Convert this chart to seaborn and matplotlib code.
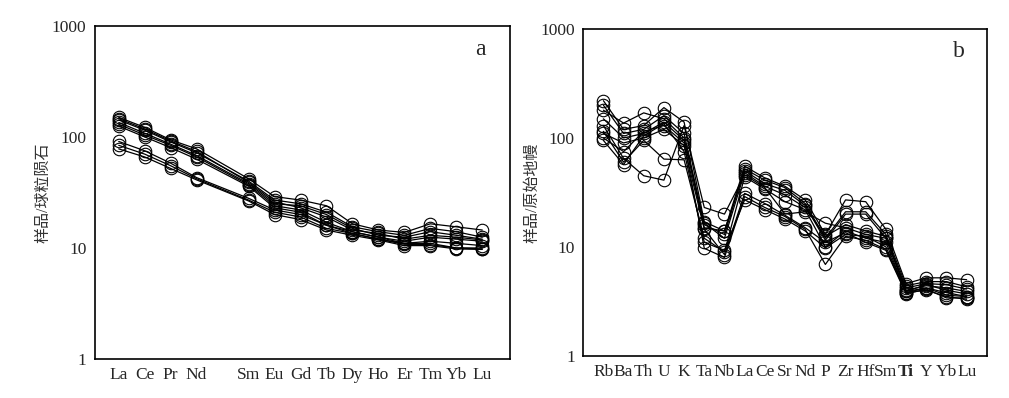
import numpy as np
import pandas as pd
import seaborn as sns
import matplotlib.pyplot as plt
from matplotlib.ticker import LogLocator, FixedLocator, FixedFormatter, NullFormatter

# chondrite-normalised REE (panel a); empty slot = Pm
ree_ticks = ["La", "Ce", "Pr", "Nd", "", "Sm", "Eu", "Gd", "Tb", "Dy", "Ho", "Er", "Tm", "Yb", "Lu"]
ree_elems = ["La", "Ce", "Pr", "Nd", "Sm", "Eu", "Gd", "Tb", "Dy", "Ho", "Er", "Tm", "Yb", "Lu"]
ree_1 = [150, 122, 94, 78, 42, 29, 27, 24, 16.5, 14.5, 13.8, 16.5, 15.5, 14.5]
ree_2 = [142, 115, 90, 72, 40, 27, 25, 21, 15.5, 14, 13, 15, 14, 12.5]
ree_3 = [135, 108, 86, 68, 38, 25, 24, 20, 15, 13, 12.5, 14, 13, 12]
ree_4 = [130, 104, 84, 66, 37, 24, 22, 17, 14, 12.5, 11.5, 12.5, 12, 11.5]
ree_5 = [125, 100, 80, 63, 36, 23, 21, 16, 13.5, 12, 11, 11.5, 11, 10.5]
ree_6 = [146, 118, 92, 74, 39, 26, 23, 19, 14.5, 13.5, 12, 13, 12.5, 11.8]
ree_7 = [91, 75, 58, 43, 28, 22, 20, 16, 14, 12.5, 11, 11, 10, 10]
ree_8 = [84, 70, 55, 42, 27, 21, 19, 15, 13.5, 12, 10.8, 10.7, 10, 9.8]
ree_9 = [78, 66, 52, 41, 26.5, 20, 18, 14.5, 13, 11.8, 10.5, 10.5, 9.8, 9.7]
ree_samples = [ree_1, ree_2, ree_3, ree_4, ree_5, ree_6, ree_7, ree_8, ree_9]

# primitive-mantle-normalised trace elements (panel b)
tr_elems = ["Rb", "Ba", "Th", "U", "K", "Ta", "Nb", "La", "Ce", "Sr", "Nd", "P",
            "Zr", "Hf", "Sm", "Ti", "Y", "Yb", "Lu"]
tr_1 = [220, 120, 130, 190, 140, 17, 14, 55, 43, 36, 27, 13, 27, 26, 14.5, 4.6, 5.2, 5.2, 5.0]
tr_2 = [200, 110, 120, 160, 110, 16, 13, 52, 41, 35, 25, 12, 21, 21, 13, 4.4, 4.8, 4.8, 4.3]
tr_3 = [180, 137, 170, 150, 100, 15, 14, 50, 38, 33, 24, 11.5, 20, 20, 12, 4.2, 4.6, 4.5, 4.1]
tr_4 = [150, 100, 110, 140, 95, 16.5, 12, 48, 36, 30, 23, 12.5, 16, 14, 12.5, 4.0, 4.4, 4.2, 3.9]
tr_5 = [130, 65, 45, 41, 130, 23, 20, 46, 35, 20, 21, 16.5, 15, 13, 12, 3.9, 4.5, 4.0, 3.7]
tr_6 = [115, 60, 95, 64, 63, 12, 9, 44, 34, 26, 22, 10, 14, 12, 11, 3.8, 4.2, 3.8, 3.5]
tr_7 = [110, 90, 100, 120, 85, 14.5, 8.5, 31, 25, 19.5, 15, 11, 13.5, 11, 9.3, 3.7, 4.1, 3.4, 3.4]
tr_8 = [100, 75, 115, 130, 90, 9.7, 8, 29, 23, 19, 14.5, 6.9, 12.5, 11.5, 9.5, 3.8, 4.0, 3.5, 3.3]
tr_9 = [95, 57, 105, 135, 75, 11, 9.3, 27, 22, 18, 14, 9.8, 13, 12.5, 10, 3.9, 4.2, 3.6, 3.5]
tr_samples = [tr_1, tr_2, tr_3, tr_4, tr_5, tr_6, tr_7, tr_8, tr_9]

SERIF = ["Liberation Serif", "Noto Sans CJK SC", "DejaVu Sans"]


def to_long(elems, ticks, samples):
    rows = []
    for i, vals in enumerate(samples):
        for el, v in zip(elems, vals):
            rows.append({"sample": i, "pos": ticks.index(el), "val": v})
    return pd.DataFrame(rows)


def style_axis(ax, ticks, ylabel, letter):
    ax.set_yscale("log")
    ax.set_ylim(1, 1000)
    ax.xaxis.set_major_locator(FixedLocator(range(len(ticks))))
    ax.xaxis.set_major_formatter(FixedFormatter(ticks))
    ax.yaxis.set_major_locator(FixedLocator([1, 10, 100, 1000]))
    ax.yaxis.set_major_formatter(FixedFormatter(["1", "10", "100", "1000"]))
    ax.yaxis.set_minor_locator(LogLocator(base=10, subs=np.arange(2, 10)))
    ax.yaxis.set_minor_formatter(NullFormatter())
    ax.tick_params(axis="both", which="major", direction="in", length=6, width=1, labelsize=12.5, pad=6)
    ax.tick_params(axis="y", which="minor", direction="in", length=3, width=0.8)
    ax.tick_params(axis="x", which="minor", bottom=False)
    for lab in ax.get_xticklabels() + ax.get_yticklabels():
        lab.set_family(SERIF)
    for s in ax.spines.values():
        s.set_linewidth(1.2)
        s.set_color("black")
    ax.set_xlabel("")
    ax.set_ylabel(ylabel, fontsize=11.5, family=SERIF, labelpad=0, color="#333333")
    ax.text(0.93, 0.93, letter, transform=ax.transAxes, fontsize=17,
            family=SERIF, ha="center", va="center")
    ax.grid(False)


def main():
    sns.set_style("white")
    plt.rcParams["font.family"] = SERIF

    fig = plt.figure(figsize=(10.09, 3.98), dpi=100)
    ax1 = fig.add_axes([0.094, 0.098, 0.411, 0.837])
    ax2 = fig.add_axes([0.578, 0.106, 0.400, 0.821])

    kw = dict(x="pos", y="val", units="sample", estimator=None, color="black",
              marker="o", markersize=9, markerfacecolor="none",
              markeredgecolor="black", markeredgewidth=0.8, linewidth=0.9,
              legend=False)

    df1 = to_long(ree_elems, ree_ticks, ree_samples)
    sns.lineplot(data=df1, ax=ax1, **kw)
    style_axis(ax1, ree_ticks, "样品/球粒陨石", "a")
    ax1.set_xlim(-0.92, 15.05)

    df2 = to_long(tr_elems, tr_elems, tr_samples)
    sns.lineplot(data=df2, ax=ax2, **kw)
    style_axis(ax2, tr_elems, "样品/原始地幔", "b")
    ax2.set_xlim(-1.0, 19.0)
    for lab in ax2.get_xticklabels():
        if lab.get_text() == "Ti":
            lab.set_fontweight("bold")

    fig.savefig("out.png", dpi=100)


if __name__ == "__main__":
    main()
